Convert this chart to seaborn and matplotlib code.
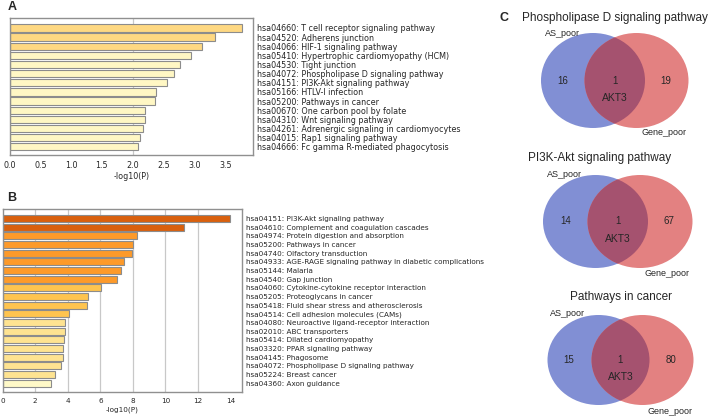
# Metascape-style enrichment bars (A, B) plus three Venn diagrams (C)
import matplotlib
matplotlib.use("Agg")
import matplotlib.pyplot as plt
from matplotlib.patches import Ellipse
import seaborn as sns

# ---- data ----
a_terms = [
    "hsa04660: T cell receptor signaling pathway",
    "hsa04520: Adherens junction",
    "hsa04066: HIF-1 signaling pathway",
    "hsa05410: Hypertrophic cardiomyopathy (HCM)",
    "hsa04530: Tight junction",
    "hsa04072: Phospholipase D signaling pathway",
    "hsa04151: PI3K-Akt signaling pathway",
    "hsa05166: HTLV-I infection",
    "hsa05200: Pathways in cancer",
    "hsa00670: One carbon pool by folate",
    "hsa04310: Wnt signaling pathway",
    "hsa04261: Adrenergic signaling in cardiomyocytes",
    "hsa04015: Rap1 signaling pathway",
    "hsa04666: Fc gamma R-mediated phagocytosis",
]
a_logp = [3.77, 3.33, 3.12, 2.95, 2.76, 2.67, 2.56, 2.38, 2.36, 2.20, 2.19, 2.16, 2.11, 2.08]
a_colors = ["#fed882"] * 3 + ["#fff7c4"] * 11

b_terms = [
    "hsa04151: PI3K-Akt signaling pathway",
    "hsa04610: Complement and coagulation cascades",
    "hsa04974: Protein digestion and absorption",
    "hsa05200: Pathways in cancer",
    "hsa04740: Olfactory transduction",
    "hsa04933: AGE-RAGE signaling pathway in diabetic complications",
    "hsa05144: Malaria",
    "hsa04540: Gap junction",
    "hsa04060: Cytokine-cytokine receptor interaction",
    "hsa05205: Proteoglycans in cancer",
    "hsa05418: Fluid shear stress and atherosclerosis",
    "hsa04514: Cell adhesion molecules (CAMs)",
    "hsa04080: Neuroactive ligand-receptor interaction",
    "hsa02010: ABC transporters",
    "hsa05414: Dilated cardiomyopathy",
    "hsa03320: PPAR signaling pathway",
    "hsa04145: Phagosome",
    "hsa04072: Phospholipase D signaling pathway",
    "hsa05224: Breast cancer",
    "hsa04360: Axon guidance",
]
b_logp = [13.98, 11.15, 8.27, 8.0, 7.97, 7.45, 7.27, 7.02, 6.02, 5.24,
          5.19, 4.10, 3.82, 3.82, 3.74, 3.68, 3.68, 3.57, 3.20, 2.94]
b_colors = (["#d9600e"] * 2 + ["#fd9a2a"] * 6 + ["#fec44f"] * 4
            + ["#fee391"] * 7 + ["#fff9c8"])

venn_titles = ["Phospholipase D signaling pathway", "PI3K-Akt signaling pathway",
               "Pathways in cancer"]
as_only = [16, 14, 15]
shared = [1, 1, 1]
gene_only = [19, 67, 80]
shared_gene = ["AKT3", "AKT3", "AKT3"]

# ---- figure ----
W, H = 709, 418
fig = plt.figure(figsize=(W / 100, H / 100), dpi=100)
sns.set_style("white")
plt.rcParams["font.family"] = ["DejaVu Sans"]


def px_axes(left, top, right, bottom):
    return fig.add_axes([left / W, 1 - bottom / H, (right - left) / W, (bottom - top) / H])


def enrich_bars(ax, terms, vals, colors, xmax, ticks, tick_fmt, grid_at, fs, ybot):
    sns.barplot(x=vals, y=terms, hue=terms, palette=dict(zip(terms, colors)),
                legend=False, orient="h", width=0.8, saturation=1,
                edgecolor="#8c8c8c", linewidth=0.8, ax=ax)
    for g in grid_at:
        ax.axvline(g, color="#c8c8c8", lw=0.9, zorder=0)
    ax.set_xlim(0, xmax)
    ax.set_ylim(ybot, -1.08)
    ax.set_xticks(ticks)
    ax.set_xticklabels([tick_fmt.format(t) for t in ticks], fontsize=fs)
    ax.yaxis.tick_right()
    ax.tick_params(axis="y", length=0, labelsize=fs, pad=3)
    ax.tick_params(axis="x", length=2, width=0.6, color="#808080", pad=2)
    ax.set_ylabel("")
    ax.set_xlabel("-log10(P)", fontsize=fs, labelpad=2)
    for s in ax.spines.values():
        s.set_color("#909090")
        s.set_linewidth(1.0)
    for lab in ax.get_yticklabels():
        lab.set_horizontalalignment("left")


ax_a = px_axes(9.5, 18, 253, 155)
enrich_bars(ax_a, a_terms, a_logp, a_colors, 3.95,
            [0, 0.5, 1, 1.5, 2, 2.5, 3, 3.5], "{:.1f}", [2.0], 5.8, 13.9)

ax_b = px_axes(2.7, 209, 242, 392)
enrich_bars(ax_b, b_terms, b_logp, b_colors, 14.7,
            list(range(0, 15, 2)), "{:d}", [2, 4, 6, 8, 10, 12], 5.2, 20.0)

# ---- Venn panel drawn in a pixel-coordinate overlay ----
ov = fig.add_axes([0, 0, 1, 1])
ov.set_xlim(0, W)
ov.set_ylim(H, 0)
ov.axis("off")

arial = ["Liberation Sans", "DejaVu Sans"]
ov.text(12, 7, "A", fontsize=9, fontweight="bold", family=arial, ha="center", va="center")
ov.text(12, 198, "B", fontsize=9, fontweight="bold", family=arial, ha="center", va="center")
ov.text(504, 18, "C", fontsize=9, fontweight="bold", family=arial, ha="center", va="center")

venn_cy = [80.5, 221.5, 360]
venn_bx = [593, 595.5, 598.5]
venn_rx = [636.5, 640, 642.5]
venn_w = [104, 105, 102]
venn_h = [95, 93, 90]
title_xy = [(615, 18), (600, 158), (621, 297)]

for i in range(3):
    cy, bx, rx, w, h = venn_cy[i], venn_bx[i], venn_rx[i], venn_w[i], venn_h[i]
    blue = Ellipse((bx, cy), w, h, facecolor="#818fd4", edgecolor="none")
    red = Ellipse((rx, cy), w, h, facecolor="#e38181", edgecolor="none")
    ov.add_patch(blue)
    ov.add_patch(red)
    mid = Ellipse((rx, cy), w, h, facecolor="#a5526f", edgecolor="none")
    ov.add_patch(mid)
    mid.set_clip_path(blue)

    tx, ty = title_xy[i]
    ov.text(tx, ty, venn_titles[i], fontsize=8.5, family=arial, ha="center", va="center")
    ov.text(bx - 31, cy - 47, "AS_poor", fontsize=6.5, family=arial, ha="center", va="center")
    ov.text(rx + 27, cy + 52, "Gene_poor", fontsize=6.5, family=arial, ha="center", va="center")
    ov.text(bx - 30, cy, str(as_only[i]), fontsize=7, family=arial, ha="center", va="center")
    ov.text(rx + 29, cy, str(gene_only[i]), fontsize=7, family=arial, ha="center", va="center")
    ov.text((bx + rx) / 2, cy, str(shared[i]), fontsize=7, family=arial, ha="center", va="center")
    ov.text((bx + rx) / 2, cy + 17.5, shared_gene[i], fontsize=7.5, family=arial,
            ha="center", va="center")

fig.savefig("out.png", dpi=100)
